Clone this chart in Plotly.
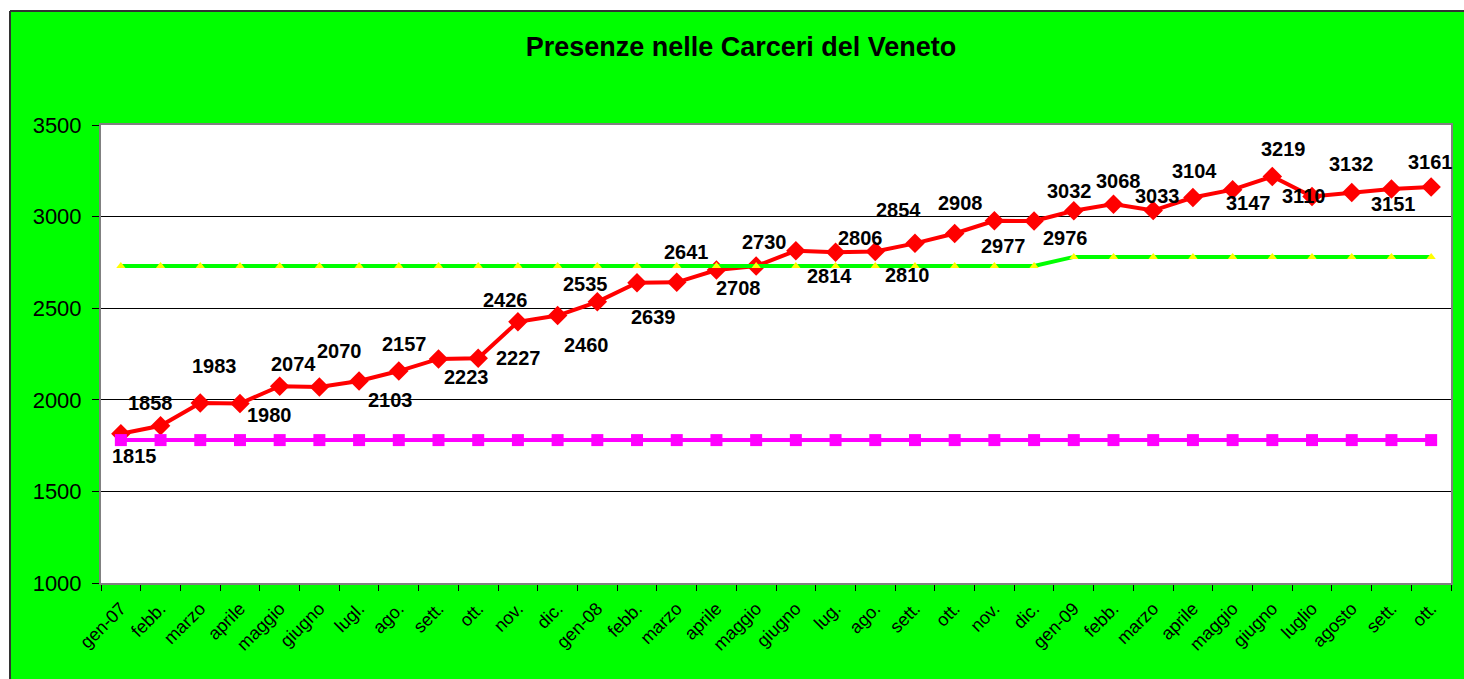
import plotly.graph_objects as go

# mesi (gen 2007 - ott 2009)
mesi = ["gen-07", "febb.", "marzo", "aprile", "maggio", "giugno", "lugl.", "ago.", "sett.", "ott.", "nov.", "dic.",
        "gen-08", "febb.", "marzo", "aprile", "maggio", "giugno", "lug.", "ago.", "sett.", "ott.", "nov.", "dic.",
        "gen-09", "febb.", "marzo", "aprile", "maggio", "giugno", "luglio", "agosto", "sett.", "ott."]

presenze = [1815, 1858, 1983, 1980, 2074, 2070, 2103, 2157, 2223, 2227, 2426, 2460,
            2535, 2639, 2641, 2708, 2730, 2814, 2806, 2810, 2854, 2908, 2977, 2976,
            3032, 3068, 3033, 3104, 3147, 3219, 3110, 3132, 3151, 3161]

tollerabile = [2730, 2730, 2730, 2730, 2730, 2730, 2730, 2730, 2730, 2730, 2730, 2730,
               2730, 2730, 2730, 2730, 2730, 2730, 2730, 2730, 2730, 2730, 2730, 2730,
               2780, 2780, 2780, 2780, 2780, 2780, 2780, 2780, 2780, 2780]

regolamentare = [1780, 1780, 1780, 1780, 1780, 1780, 1780, 1780, 1780, 1780, 1780, 1780,
                 1780, 1780, 1780, 1780, 1780, 1780, 1780, 1780, 1780, 1780, 1780, 1780,
                 1780, 1780, 1780, 1780, 1780, 1780, 1780, 1780, 1780, 1780]

# spostamento etichette (px, dx a destra, dy in basso)
label_off = [(14, 22), (-10, -23), (14, -37), (30, 12), (14, -22), (20, -36), (31, 19), (6, -27),
             (28, 18), (40, 0), (-12, -22), (29, 29), (-12, -18), (16, 34), (10, -30), (22, 18),
             (8, -24), (34, 25), (25, -14), (32, 24), (-16, -33), (6, -30), (9, 25), (31, 17),
             (-4, -20), (5, -23), (4, -15), (2, -27), (16, 13), (11, -27), (-9, 0), (0, -28),
             (2, 15), (-1, -25)]

W, H = 1464, 679
ML, MR, MT, MB = 101, 13, 125, 96
PW, PH = W - ML - MR, H - MT - MB
FONT = "Arial, Liberation Sans, sans-serif"

x = list(range(len(mesi)))

fig = go.Figure()
fig.add_trace(go.Scatter(x=x, y=presenze, mode="lines+markers", name="Presenze",
                         line=dict(color="#FF0000", width=4),
                         marker=dict(symbol="diamond", size=15, color="#FF0000")))
fig.add_trace(go.Scatter(x=x, y=tollerabile, mode="lines+markers", name="Capienza tollerabile",
                         line=dict(color="#00FF00", width=4),
                         marker=dict(symbol="triangle-up", size=8, color="#FFFF00")))
fig.add_trace(go.Scatter(x=x, y=regolamentare, mode="lines+markers", name="Capienza regolamentare",
                         line=dict(color="#FF00FF", width=4),
                         marker=dict(symbol="square", size=12, color="#FF00FF")))

for i, v in enumerate(presenze):
    dx, dy = label_off[i]
    fig.add_annotation(x=i, y=v, text=str(v), showarrow=False, xshift=dx, yshift=-dy,
                       font=dict(family=FONT, size=20, color="black", weight="bold"))


def px(p):
    return (p - ML) / PW


def py(p):
    return (H - MB - p) / PH


# cornice verde con bordo
fig.add_shape(type="rect", xref="paper", yref="paper", x0=px(-5), x1=px(10), y0=py(H + 10), y1=py(-10),
              fillcolor="white", line_width=0, layer="above")
fig.add_shape(type="rect", xref="paper", yref="paper", x0=px(-5), x1=px(W + 10), y0=py(11), y1=py(-10),
              fillcolor="white", line_width=0, layer="above")
fig.add_shape(type="line", xref="paper", yref="paper", x0=px(10), x1=px(W + 10), y0=py(11), y1=py(11),
              line=dict(color="#333333", width=2))
fig.add_shape(type="line", xref="paper", yref="paper", x0=px(10), x1=px(10), y0=py(11), y1=py(H + 10),
              line=dict(color="#333333", width=2))

fig.update_layout(
    width=W, height=H,
    margin=dict(l=ML, r=MR, t=MT, b=MB),
    paper_bgcolor="#00FF00",
    plot_bgcolor="white",
    showlegend=False,
    font=dict(family=FONT, color="black"),
    title=dict(text="<b>Presenze nelle Carceri del Veneto</b>", x=(741 / W), xanchor="center",
               y=1 - 47 / H, yanchor="middle", yref="container",
               font=dict(family=FONT, size=27, color="black")),
)
fig.update_xaxes(range=[-0.5, len(mesi) - 0.5], tickmode="array", tickvals=x, ticktext=mesi,
                 tickangle=-45, ticks="", showgrid=False, zeroline=False, ticklabelstandoff=6,
                 showline=True, linecolor="#808080", linewidth=2, mirror=True,
                 tickfont=dict(family=FONT, size=18, color="black"),
                 minor=dict(tickmode="linear", tick0=-0.5, dtick=1, ticks="outside", ticklen=6,
                            tickcolor="black", tickwidth=1, showgrid=False))
fig.update_yaxes(range=[1000, 3500], tickvals=[1000, 1500, 2000, 2500, 3000, 3500],
                 ticks="outside", ticklen=7, tickcolor="black", ticklabelstandoff=6,
                 showgrid=True, gridcolor="black", gridwidth=1, zeroline=False,
                 showline=True, linecolor="#808080", linewidth=2, mirror=True,
                 tickfont=dict(family=FONT, size=22, color="black"))

# niente margine della pagina: la figura occupa tutta la finestra
fig.write_html("out.html", config={"displayModeBar": False},
               post_script="document.body.style.margin='0';"
                           "document.documentElement.style.overflow='hidden';")
